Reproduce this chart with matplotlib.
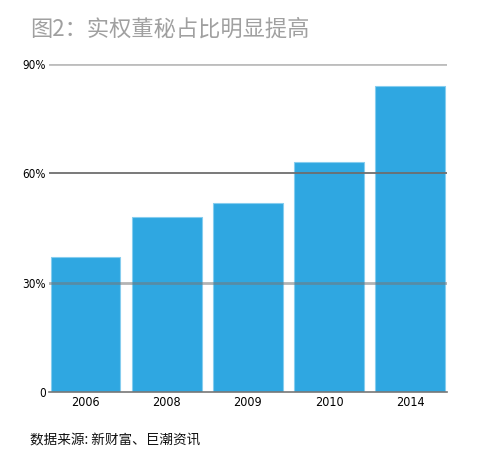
import numpy as np
import matplotlib
matplotlib.use('Agg')
import matplotlib.pyplot as plt

# 数据
years = ['2006', '2008', '2009', '2010', '2014']
ratio = [37, 48, 52, 63, 84]  # 实权董秘占比 %
yticks = [0, 30, 60, 90]
ytick_labels = ['0', '30%', '60%', '90%']

plt.rcParams['font.family'] = ['Noto Sans CJK SC', 'DejaVu Sans']
num_font = ['DejaVu Sans']

fig = plt.figure(figsize=(4.8, 4.75), dpi=100)
ax = fig.add_axes([0.102, 0.1747, 0.829, 0.6905])

x = np.arange(len(years))
ax.bar(x, ratio, width=0.86, color='#2fa7e1', edgecolor='#86cdef', linewidth=0.8, zorder=2)

# 网格线 (画在柱子上面)
ax.axhline(90, color='#bdbdbd', linewidth=2, zorder=3)
ax.axhline(60, color='#6e6e6e', linewidth=1.3, zorder=3)
ax.axhline(30, color='#777777', linewidth=2, alpha=0.55, zorder=3)

ax.set_xlim(-0.45, 4.45)
ax.set_ylim(0, 90)
ax.set_xticks(x)
ax.set_xticklabels(years, fontsize=9, family=num_font, fontstretch='condensed')
ax.set_yticks(yticks)
ax.set_yticklabels(ytick_labels, fontsize=8.5, family=num_font, fontstretch='condensed')
ax.tick_params(axis='both', length=0, pad=3)
ax.tick_params(axis='y', pad=2)

for s in ['top', 'right', 'left']:
    ax.spines[s].set_visible(False)
ax.spines['bottom'].set_color('#777777')
ax.spines['bottom'].set_linewidth(1.2)
ax.spines['bottom'].set_zorder(4)

fig.text(0.062, 0.938, '图2：实权董秘占比明显提高', fontsize=16, color='#a0a0a0', va='center', ha='left')
fig.text(0.062, 0.073, '数据来源: 新财富、巨潮资讯', fontsize=9.8, color='#111111', va='center', ha='left')

plt.savefig('out.png', dpi=100)
